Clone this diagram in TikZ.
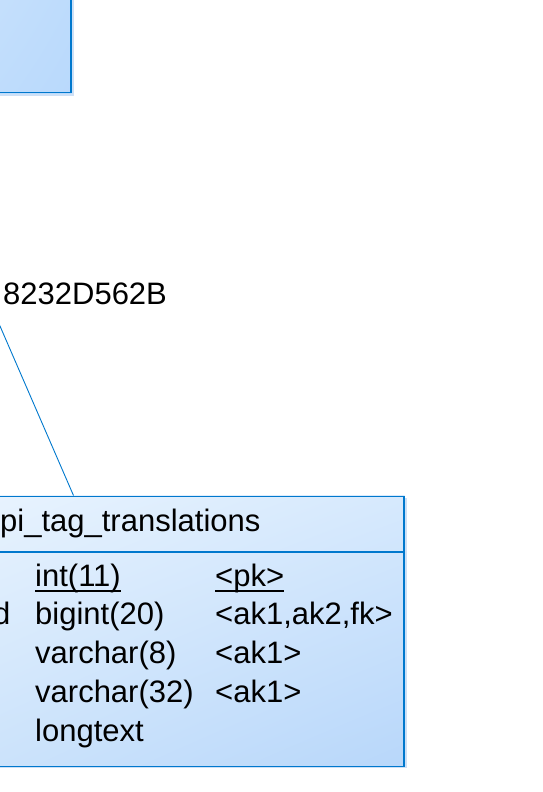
\documentclass[tikz,border=0pt]{standalone}
\usepackage{fontspec}
\setmainfont{Liberation Sans}
\usetikzlibrary{calc,shadings}
\definecolor{erborder}{RGB}{0,120,205}
\definecolor{ershadow}{RGB}{205,224,246}
\definecolor{boxUL}{RGB}{200,225,252}
\definecolor{boxUR}{RGB}{190,220,252}
\definecolor{boxLL}{RGB}{192,221,252}
\definecolor{boxLR}{RGB}{185,217,252}
\definecolor{tblUL}{RGB}{232,243,254}
\definecolor{tblUR}{RGB}{214,233,253}
\definecolor{tblLL}{RGB}{204,227,251}
\definecolor{tblLR}{RGB}{184,215,250}
\begin{document}
\begin{tikzpicture}[x=1pt,y=-1pt,
  txt/.style={font=\fontsize{31}{36}\selectfont, inner sep=0pt, text=black},
  erframe/.style={draw=erborder, line width=1.5pt},
  conn/.style={draw=erborder, line width=0.9pt},
  uline/.style={draw=black, line width=1.4pt}]
\useasboundingbox (0,0) rectangle (543,792);
\clip (0,0) rectangle (543,792);
% upper entity (partly visible)
\fill[ershadow] (-20,-20) rectangle (74,95.5);
\shade[upper left=boxUL, upper right=boxUR, lower left=boxLL, lower right=boxLR]
  (-20,-20) rectangle (71.5,93);
\node[erframe, inner sep=0pt, minimum width=91.5pt, minimum height=113pt, anchor=south east] (topent) at (71.5,93) {};
% table entity
\fill[ershadow] (-20,497.5) rectangle (407,768);
\shade[upper left=tblUL, upper right=tblUR, lower left=tblLL, lower right=tblLR]
  (-20,495.5) rectangle (404.5,765.5);
\node[erframe, inner sep=0pt, minimum width=424.5pt, minimum height=270pt, anchor=north east] (tbl) at (404.5,495.5) {};
\draw[erframe] (tbl.west |- 0,552) -- (tbl.east |- 0,552);
% reference connector
\coordinate (refend) at (-10,303);
\coordinate (refx) at (73.5,0);
\draw[conn] (refend) -- (refx |- tbl.north);
\node[txt, anchor=base west] (reflbl) at (3,304) {8232D562B};
% table title
\node[txt, anchor=base west] (tname) at (0,531) {pi\_tag\_translations};
% rows
\node[txt, anchor=base west] (t1) at (35,586) {int(11)};
\node[txt, anchor=base west] (k1) at (215,586) {<pk>};
\node[txt, anchor=base east] (n2) at (10.5,624.5) {d};
\node[txt, anchor=base west] (t2) at (35,624.5) {bigint(20)};
\node[txt, anchor=base west] (k2) at (215,624.5) {<ak1,ak2,fk>};
\node[txt, anchor=base west] (t3) at (35,663.5) {varchar(8)};
\node[txt, anchor=base west] (k3) at (215,663.5) {<ak1>};
\node[txt, anchor=base west] (t4) at (35,702.5) {varchar(32)};
\node[txt, anchor=base west] (k4) at (215,702.5) {<ak1>};
\node[txt, anchor=base west] (t5) at (35,741) {longtext};
% underlines of the primary key row
\draw[uline] ($(t1.base west)+(0,5)$) -- ($(t1.base east)+(0,5)$);
\draw[uline] ($(k1.base west)+(0,5)$) -- ($(k1.base east)+(0,5)$);
\end{tikzpicture}
\end{document}
